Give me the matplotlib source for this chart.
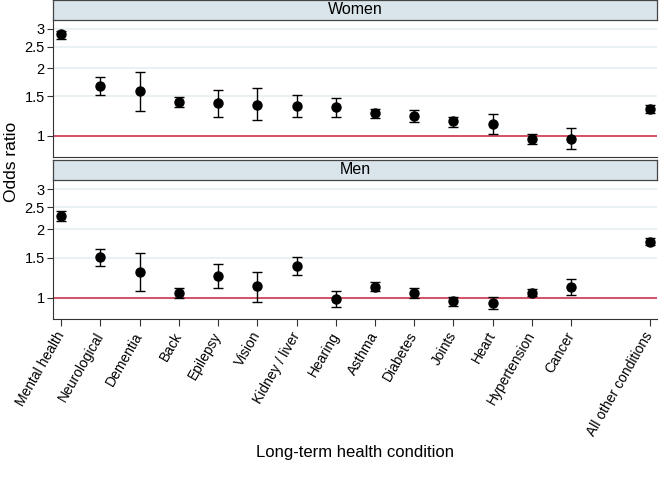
import matplotlib.pyplot as plt
from matplotlib.ticker import FixedLocator, NullLocator

conditions = ['Mental health', 'Neurological', 'Dementia', 'Back', 'Epilepsy', 'Vision',
              'Kidney / liver', 'Hearing', 'Asthma', 'Diabetes', 'Joints', 'Heart',
              'Hypertension', 'Cancer', 'All other conditions']
xpos = [0, 1, 2, 3, 4, 5, 6, 7, 8, 9, 10, 11, 12, 13, 15]

women_or = [2.84, 1.67, 1.58, 1.41, 1.40, 1.38, 1.36, 1.34, 1.26, 1.23, 1.16, 1.13, 0.97, 0.97, 1.32]
women_lo = [2.72, 1.53, 1.29, 1.34, 1.22, 1.18, 1.21, 1.22, 1.20, 1.15, 1.10, 1.02, 0.92, 0.87, 1.27]
women_hi = [2.95, 1.83, 1.93, 1.49, 1.61, 1.63, 1.53, 1.47, 1.32, 1.31, 1.22, 1.25, 1.02, 1.08, 1.37]

men_or = [2.28, 1.51, 1.30, 1.05, 1.24, 1.12, 1.38, 0.99, 1.11, 1.05, 0.97, 0.95, 1.05, 1.11, 1.76]
men_lo = [2.17, 1.38, 1.07, 1.00, 1.10, 0.96, 1.26, 0.91, 1.07, 1.00, 0.92, 0.89, 1.02, 1.03, 1.70]
men_hi = [2.40, 1.64, 1.57, 1.10, 1.41, 1.30, 1.51, 1.07, 1.17, 1.10, 1.01, 1.01, 1.09, 1.21, 1.82]

yticks = [1, 1.5, 2, 2.5, 3]
ytick_labels = ['1', '1.5', '2', '2.5', '3']

plt.rcParams['font.family'] = ['Liberation Sans', 'DejaVu Sans']

fig = plt.figure(figsize=(6.59, 4.79), dpi=100)
L, W = 53 / 659, 604 / 659
H = 479.0

panels = [('Women', women_or, women_lo, women_hi, 20, 157),
          ('Men', men_or, men_lo, men_hi, 180, 319)]
for i, (name, o, lo, hi, top, bot) in enumerate(panels):
    ax = fig.add_axes([L, 1 - bot / H, W, (bot - top) / H])
    # panel header strip
    sax = fig.add_axes([L, 1 - top / H, W, 20 / H])
    sax.set_facecolor('#d9e5eb')
    sax.set_xticks([])
    sax.set_yticks([])
    for s in sax.spines.values():
        s.set_color('#444444')
        s.set_linewidth(0.9)
    sax.text(0.5, 0.5, name, ha='center', va='center', fontsize=11.5, transform=sax.transAxes)

    ax.set_yscale('log')
    ax.set_ylim(0.805, 3.29)
    ax.set_xlim(-0.21, 15.19)
    ax.yaxis.set_major_locator(FixedLocator(yticks))
    ax.yaxis.set_minor_locator(NullLocator())
    ax.set_yticklabels(ytick_labels, fontsize=10.5)
    for t in yticks[1:]:
        ax.axhline(t, color='#e6eff2', lw=1.2, zorder=0)
    ax.axhline(1, color='#c8203c', lw=1.1, zorder=1)

    err = [[a - b for a, b in zip(o, lo)], [b - a for a, b in zip(o, hi)]]
    ax.errorbar(xpos, o, yerr=err, fmt='o', color='black', ms=6.5, capsize=3.5,
                elinewidth=1, capthick=1, zorder=3)

    ax.spines['right'].set_visible(False)
    ax.spines['top'].set_visible(False)
    ax.spines['left'].set_color('#333333')
    ax.spines['bottom'].set_color('#333333')
    ax.tick_params(axis='y', length=4, color='#333333', pad=2)
    if i == 0:
        ax.set_xticks([])
    else:
        ax.set_xticks(xpos)
        ax.set_xticklabels(conditions, rotation=60, ha='right', va='center',
                           rotation_mode='anchor', fontsize=10)
        ax.tick_params(axis='x', length=5, color='#333333', pad=5)
        ax.set_xlabel('Long-term health condition', fontsize=12, labelpad=5)

fig.text(0.018, 1 - 162 / H, 'Odds ratio', rotation=90, ha='center', va='center', fontsize=12.5)

fig.savefig('out.png', dpi=100)
